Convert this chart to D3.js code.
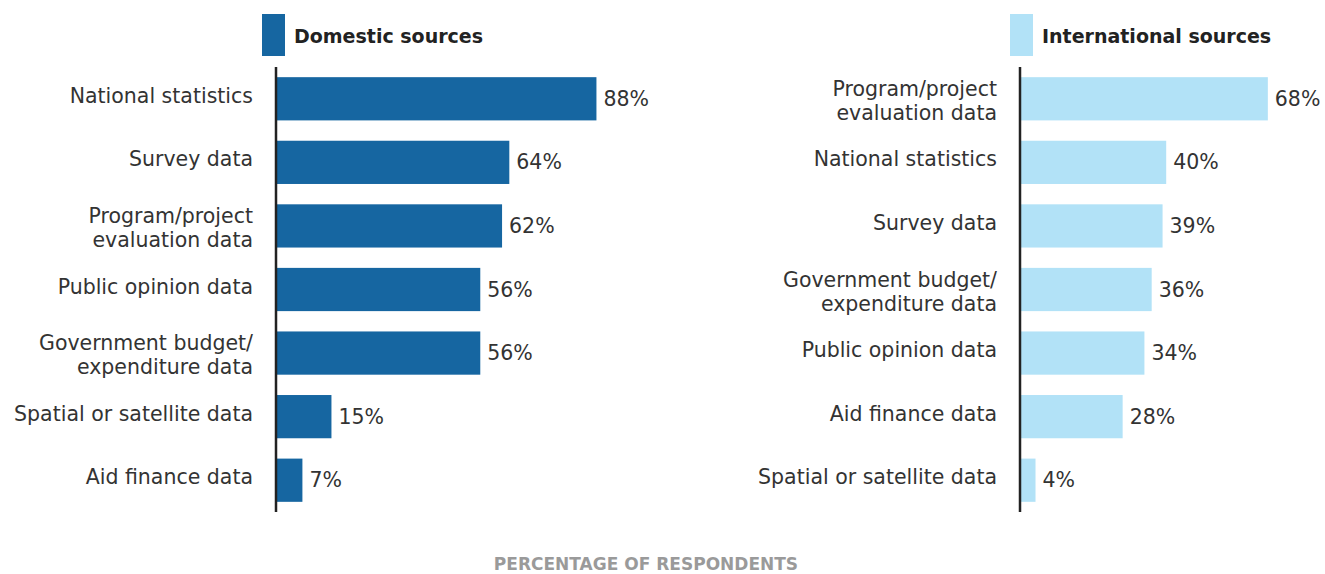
<!DOCTYPE html>
<html>
<head>
<meta charset="utf-8">
<script src="https://cdn.jsdelivr.net/npm/d3@7"></script>
<style>
  body { margin: 0; background: #fff; }
  text { font-family: "DejaVu Sans", sans-serif; }
</style>
</head>
<body>
<div id="chart-area"></div>
<script>
// data
var domesticCategories = ["National statistics", "Survey data", "Program/project|evaluation data",
    "Public opinion data", "Government budget/|expenditure data", "Spatial or satellite data", "Aid finance data"];
var domesticValues = [88, 64, 62, 56, 56, 15, 7];

var internationalCategories = ["Program/project|evaluation data", "National statistics", "Survey data",
    "Government budget/|expenditure data", "Public opinion data", "Aid finance data", "Spatial or satellite data"];
var internationalValues = [68, 40, 39, 36, 34, 28, 4];

var panelTitles = ["Domestic sources", "International sources"];
var axisTitle = "PERCENTAGE OF RESPONDENTS";

const svgWidth = 1325;
const svgHeight = 574;

var svg = d3.select("#chart-area")
    .append("svg")
        .attr("width", svgWidth)
        .attr("height", svgHeight);

// shared scales
var xScale = d3.scaleLinear()
    .domain([0, 100])
    .range([0, 363]);

function drawPanel(originX, legendX, title, cats, vals, color) {
    var yScale = d3.scaleBand()
        .domain(cats)
        .range([67, 512])
        .paddingInner(0.32)
        .paddingOuter(0.16);

    var g = svg.append("g")
        .attr("transform", "translate(" + originX + ",0)");

    // legend
    svg.append("rect")
        .attr("x", legendX)
        .attr("y", 14)
        .attr("width", 23)
        .attr("height", 42)
        .attr("fill", color);
    svg.append("text")
        .attr("x", legendX + 32)
        .attr("y", 43)
        .attr("font-size", "19px")
        .attr("font-weight", "bold")
        .attr("fill", "#222")
        .text(title);

    // bars
    g.selectAll("rect.bar")
        .data(vals)
        .enter()
        .append("rect")
        .attr("class", "bar")
        .attr("x", 0)
        .attr("y", function(d, i){ return yScale(cats[i]); })
        .attr("width", function(d){ return xScale(d); })
        .attr("height", yScale.bandwidth())
        .attr("fill", color);

    // value labels
    g.selectAll("text.value")
        .data(vals)
        .enter()
        .append("text")
        .attr("class", "value")
        .attr("x", function(d){ return xScale(d) + 7; })
        .attr("y", function(d, i){ return yScale(cats[i]) + yScale.bandwidth()/2 + 7; })
        .attr("font-size", "20.5px")
        .attr("fill", "#333")
        .text(function(d){ return d + "%"; });

    // category labels
    var labels = g.selectAll("text.cat")
        .data(cats)
        .enter()
        .append("text")
        .attr("class", "cat")
        .attr("text-anchor", "end")
        .attr("font-size", "20.5px")
        .attr("fill", "#333")
        .attr("x", -24)
        .attr("y", function(d){ return yScale(d) + yScale.bandwidth()/2; });

    labels.each(function(d){
        var lines = d.split("|");
        var t = d3.select(this);
        if (lines.length == 1) {
            t.append("tspan").attr("x", -24).attr("dy", 4).text(lines[0]);
        } else {
            t.append("tspan").attr("x", -24).attr("dy", -3).text(lines[0]);
            t.append("tspan").attr("x", -24).attr("dy", 24).text(lines[1]);
        }
    });

    // axis line
    g.append("line")
        .attr("x1", -1).attr("x2", -1)
        .attr("y1", 67).attr("y2", 512)
        .attr("stroke", "#222")
        .attr("stroke-width", 2.5);
}

drawPanel(277, 262, panelTitles[0], domesticCategories, domesticValues, "#1666a1");
drawPanel(1021, 1010, panelTitles[1], internationalCategories, internationalValues, "#b2e2f7");

// x label
svg.append("text")
    .attr("x", 646)
    .attr("y", 570)
    .attr("text-anchor", "middle")
    .attr("font-size", "17px")
    .attr("font-weight", "bold")
    .attr("fill", "#9a9a9a")
    .text(axisTitle);
</script>
</body>
</html>
